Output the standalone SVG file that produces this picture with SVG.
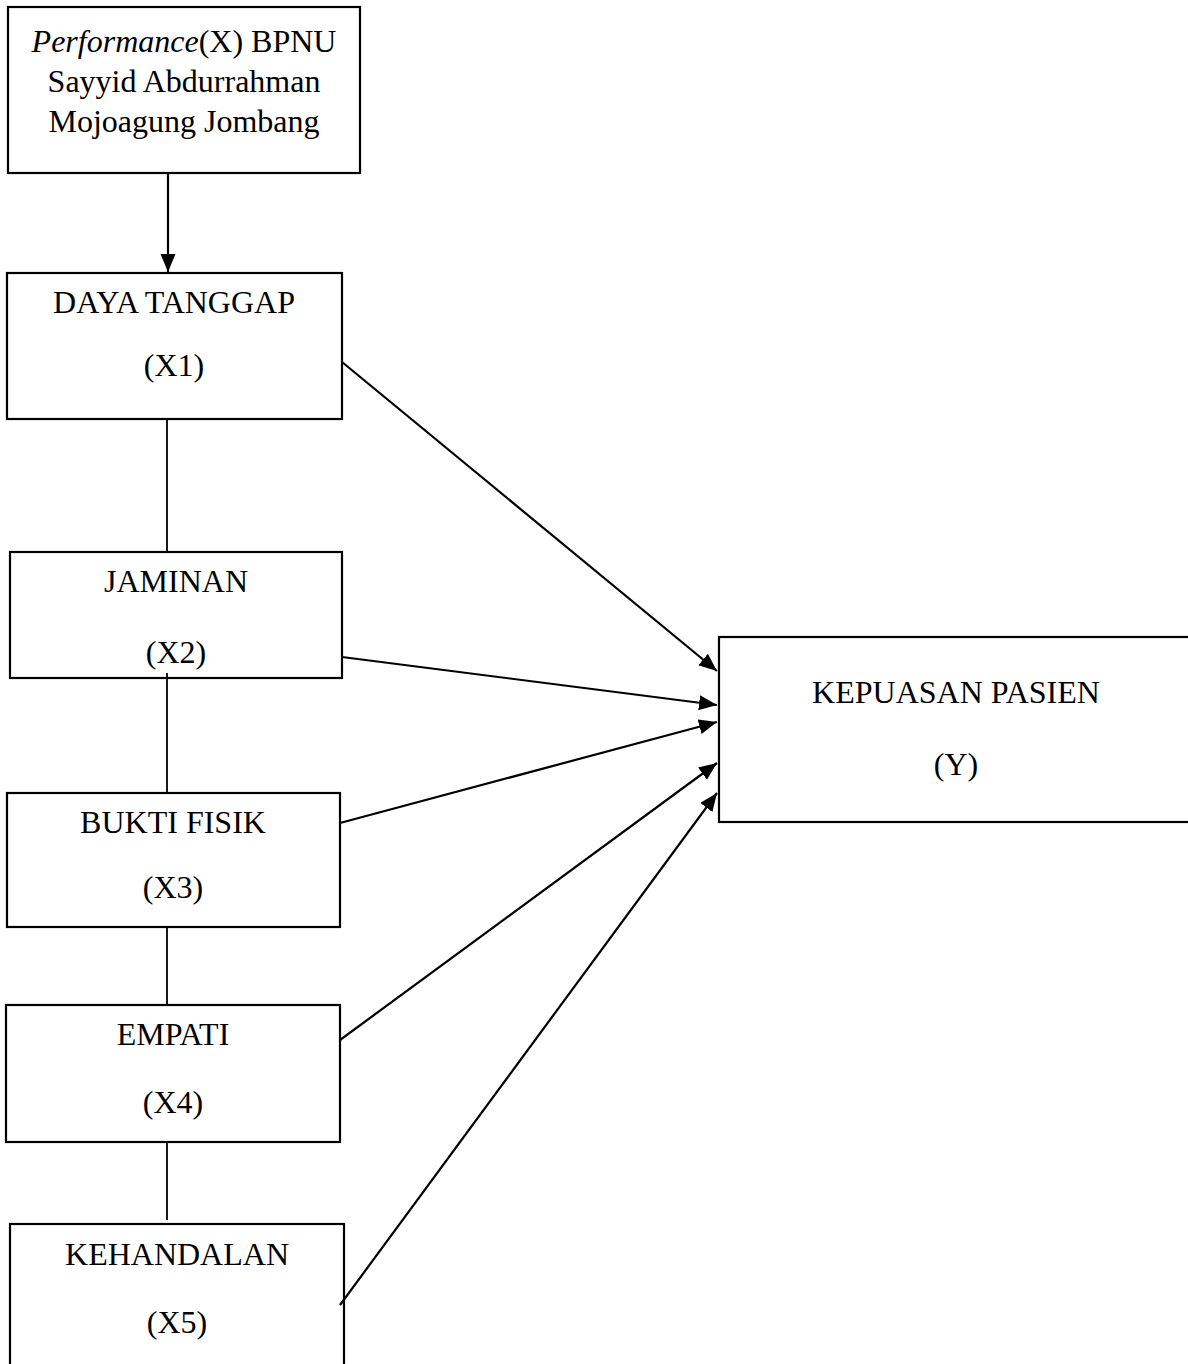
<svg xmlns="http://www.w3.org/2000/svg" width="1188" height="1364" viewBox="0 0 1188 1364">
<style>
.box{fill:#fff;stroke:#000;stroke-width:2.2}
.t{font-family:"Liberation Serif","Times New Roman",serif;font-size:32px;fill:#000;text-anchor:middle}
.c{stroke:#000;stroke-width:2.2;fill:none}
.v{stroke:#000;stroke-width:1.8;fill:none}
</style>
<defs>
<marker id="ah" markerUnits="userSpaceOnUse" markerWidth="20" markerHeight="16" refX="18" refY="7.5" orient="auto">
<path d="M0,0 L18,7.5 L0,15 z" fill="#000"/>
</marker>
</defs>
<rect width="1188" height="1364" fill="#fff"/>
<g id="n-x">
<rect class="box" x="8" y="7" width="352" height="166"/>
<text class="t" x="184" y="52"><tspan font-style="italic">Performance</tspan>(X) BPNU</text>
<text class="t" x="184" y="92">Sayyid Abdurrahman</text>
<text class="t" x="184" y="132">Mojoagung Jombang</text>
</g>
<g id="n-x1">
<rect class="box" x="7" y="273" width="335" height="146"/>
<text class="t" x="174" y="313">DAYA TANGGAP</text>
<text class="t" x="174" y="376">(X1)</text>
</g>
<g id="n-x2">
<rect class="box" x="10" y="552" width="332" height="126"/>
<text class="t" x="176" y="592">JAMINAN</text>
<text class="t" x="176" y="663">(X2)</text>
</g>
<g id="n-x3">
<rect class="box" x="7" y="793" width="333" height="134"/>
<text class="t" x="173" y="833">BUKTI FISIK</text>
<text class="t" x="173" y="898">(X3)</text>
</g>
<g id="n-x4">
<rect class="box" x="6" y="1005" width="334" height="137"/>
<text class="t" x="173" y="1045">EMPATI</text>
<text class="t" x="173" y="1113">(X4)</text>
</g>
<g id="n-x5">
<rect class="box" x="10" y="1224" width="334" height="150"/>
<text class="t" x="177" y="1265">KEHANDALAN</text>
<text class="t" x="177" y="1333">(X5)</text>
</g>
<g id="n-y">
<rect class="box" x="719" y="637" width="480" height="185"/>
<text class="t" x="956" y="703">KEPUASAN PASIEN</text>
<text class="t" x="956" y="775">(Y)</text>
</g>
<g id="connectors">
<line class="c" x1="168" y1="173" x2="168" y2="272" stroke-width="2.6" marker-end="url(#ah)"/>
<line class="v" x1="167" y1="419" x2="167" y2="552"/>
<line class="v" x1="167" y1="673" x2="167" y2="793"/>
<line class="v" x1="167" y1="927" x2="167" y2="1005"/>
<line class="v" x1="167" y1="1142" x2="167" y2="1220"/>
<line class="c" x1="342" y1="362" x2="717" y2="671" marker-end="url(#ah)"/>
<line class="c" x1="342" y1="657" x2="717" y2="705" marker-end="url(#ah)"/>
<line class="c" x1="340" y1="823" x2="717" y2="722" marker-end="url(#ah)"/>
<line class="c" x1="340" y1="1040" x2="717" y2="763" marker-end="url(#ah)"/>
<line class="c" x1="340" y1="1305" x2="717" y2="793" marker-end="url(#ah)"/>
</g>
</svg>
